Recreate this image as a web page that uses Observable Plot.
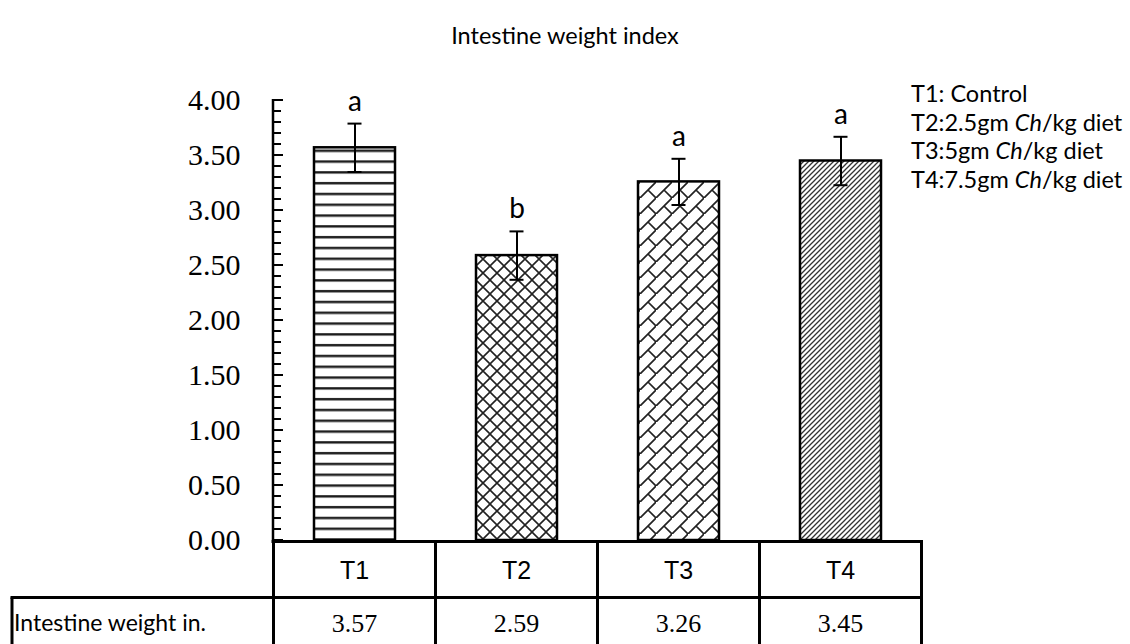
<!DOCTYPE html>
<html><head><meta charset="utf-8">
<script src="https://cdn.jsdelivr.net/npm/d3@7"></script>
<script src="https://cdn.jsdelivr.net/npm/@observablehq/plot@0.6"></script>
<style>
body{margin:0;background:#fff;}
#wrap{position:relative;width:1130px;height:644px;overflow:hidden;background:#fff;}
#title{position:absolute;left:0;top:0;width:1130px;height:70px;line-height:70px;text-align:center;font-family:Lato,"Open Sans",sans-serif;font-size:23.5px;color:#000;}
#chart{position:absolute;left:0;top:70px;}
#legend{position:absolute;left:911px;top:79px;font-family:Lato,"Open Sans",sans-serif;font-size:23.5px;line-height:28.5px;color:#000;white-space:nowrap;}
</style></head>
<body><div id="wrap"><div id="title">Intestine weight index</div><div id="chart"></div><div id="legend"></div></div>
<script>
// ---- data ----
const categories = ["T1", "T2", "T3", "T4"];
const values = [3.57, 2.59, 3.26, 3.45];
const errors = [0.22, 0.22, 0.21, 0.22];
const letters = ["a", "b", "a", "a"];
const patterns = ["hlines", "crosshatch", "brick", "diag"];
const yTicks = [0, 0.5, 1, 1.5, 2, 2.5, 3, 3.5, 4];
const yMinorTicks = [0.1,0.2,0.3,0.4,0.6,0.7,0.8,0.9,1.1,1.2,1.3,1.4,1.6,1.7,1.8,1.9,2.1,2.2,2.3,2.4,2.6,2.7,2.8,2.9,3.1,3.2,3.3,3.4,3.6,3.7,3.8,3.9];
const rowLabel = "Intestine weight in.";
const legendItems = [
  ["T1: Control", "", ""],
  ["T2:2.5gm ", "Ch", "/kg diet"],
  ["T3:5gm ", "Ch", "/kg diet"],
  ["T4:7.5gm ", "Ch", "/kg diet"]
];

const data = categories.map((c, i) => ({
  cat: c, value: values[i], lo: values[i] - errors[i], hi: values[i] + errors[i],
  letter: letters[i], pattern: patterns[i]
}));

// ---- pattern definitions ----
function patternDefs() {
  const defs = d3.create("svg:defs");
  const mk = (id, w, h) => {
    const p = defs.append("pattern").attr("id", id).attr("patternUnits", "userSpaceOnUse")
      .attr("width", w).attr("height", h);
    p.append("rect").attr("width", w).attr("height", h).attr("fill", "white");
    return p;
  };
  mk("pat-hlines", 10, 10.8).append("rect").attr("x", 0).attr("y", 4).attr("width", 10).attr("height", 2.4).attr("fill", "#1a1a1a");
  mk("pat-crosshatch", 14, 14).append("path").attr("d", "M-1,-1L15,15M15,-1L-1,15")
    .attr("stroke", "#222").attr("stroke-width", 1.6).attr("fill", "none");
  mk("pat-brick", 16, 16).append("path").attr("d", "M-2,18L18,-2M8,8L16.5,16.5")
    .attr("stroke", "#222").attr("stroke-width", 1.7).attr("fill", "none");
  mk("pat-diag", 5, 5).append("path").attr("d", "M-1,1L1,-1M0,5L5,0M4,6L6,4")
    .attr("stroke", "#333").attr("stroke-width", 1.3).attr("fill", "none");
  return defs.node();
}

// ---- y axis line + inward ticks, and the data table below ----
function axisAndTable(index, scales, channels, dims) {
  const {x, y} = scales;
  const g = d3.create("svg:g");
  const x0 = dims.marginLeft;
  const yb = dims.height - dims.marginBottom;
  g.append("line").attr("x1", x0).attr("x2", x0).attr("y1", y(4) - 1).attr("y2", yb)
    .attr("stroke", "black").attr("stroke-width", 2.5);
  for (const t of yMinorTicks) g.append("line").attr("x1", x0).attr("x2", x0 + 8).attr("y1", y(t)).attr("y2", y(t)).attr("stroke", "black").attr("stroke-width", 2);
  for (const t of yTicks) g.append("line").attr("x1", x0).attr("x2", x0 + 10).attr("y1", y(t)).attr("y2", y(t)).attr("stroke", "black").attr("stroke-width", 2);

  const bw = x.bandwidth();
  const step = x(categories[1]) - x(categories[0]);
  const left = c => x(c) + bw / 2 - step / 2;
  const right = left(categories[categories.length - 1]) + step;
  const sepY = yb + 57.5;
  const lw = 3;
  g.append("line").attr("x1", x0 - 1.5).attr("x2", right + 1.5).attr("y1", yb + 1.5).attr("y2", yb + 1.5).attr("stroke", "black").attr("stroke-width", lw);
  g.append("line").attr("x1", 10.5).attr("x2", right + 1.5).attr("y1", sepY).attr("y2", sepY).attr("stroke", "black").attr("stroke-width", lw);
  for (const c of categories) g.append("line").attr("x1", left(c)).attr("x2", left(c)).attr("y1", yb).attr("y2", dims.height).attr("stroke", "black").attr("stroke-width", lw);
  g.append("line").attr("x1", right).attr("x2", right).attr("y1", yb).attr("y2", dims.height).attr("stroke", "black").attr("stroke-width", lw);
  g.append("line").attr("x1", 12).attr("x2", 12).attr("y1", sepY).attr("y2", dims.height).attr("stroke", "black").attr("stroke-width", lw);
  categories.forEach((c, i) => {
    const cx = x(c) + bw / 2;
    g.append("text").attr("x", cx).attr("y", yb + 30).attr("text-anchor", "middle").attr("dominant-baseline", "central")
      .attr("font-family", "'Liberation Sans', Arial, sans-serif").attr("font-size", 25).attr("fill", "black").text(c);
    g.append("text").attr("x", cx).attr("y", yb + 83).attr("text-anchor", "middle").attr("dominant-baseline", "central")
      .attr("font-family", "'Liberation Serif', 'Times New Roman', serif").attr("font-size", 26).attr("fill", "black").text(values[i].toFixed(2));
  });
  g.append("text").attr("x", 14).attr("y", yb + 82).attr("text-anchor", "start").attr("dominant-baseline", "central")
    .attr("font-family", "Lato, 'Open Sans', sans-serif").attr("font-size", 23).attr("fill", "black").text(rowLabel);
  return g.node();
}

const plot = Plot.plot({
  width: 1130, height: 574,
  marginLeft: 273, marginRight: 209, marginTop: 30, marginBottom: 104,
  x: {domain: categories, paddingInner: 0.5, paddingOuter: 0.25, axis: null},
  y: {domain: [0, 4], axis: null},
  color: {type: "identity"},
  style: {background: "white", overflow: "visible"},
  marks: [
    patternDefs,
    Plot.barY(data, {x: "cat", y: "value", fill: d => `url(#pat-${d.pattern})`, stroke: "black", strokeWidth: 2.5}),
    Plot.ruleX(data, {x: "cat", y1: "lo", y2: "hi", stroke: "black", strokeWidth: 2}),
    Plot.tickY(data, {x: "cat", y: "hi", insetLeft: 33.5, insetRight: 33.5, stroke: "black", strokeWidth: 2}),
    Plot.tickY(data, {x: "cat", y: "lo", insetLeft: 33.5, insetRight: 33.5, stroke: "black", strokeWidth: 2}),
    Plot.text(data, {x: "cat", y: "hi", text: "letter", dy: -13, lineAnchor: "bottom", fontSize: 28, fontFamily: "Lato, 'Open Sans', sans-serif", fill: "black"}),
    Plot.axisY({ticks: yTicks, tickSize: 0, tickPadding: 33, tickFormat: d3.format(".2f"), fontSize: 30, fontFamily: "'Liberation Serif', 'Times New Roman', serif", fill: "black"}),
    axisAndTable
  ]
});
document.getElementById("chart").appendChild(plot);

const leg = d3.select("#legend");
for (const [a, it, b] of legendItems) {
  const div = leg.append("div");
  div.append("span").text(a);
  if (it) div.append("i").text(it);
  if (b) div.append("span").text(b);
}
</script>
</body></html>
